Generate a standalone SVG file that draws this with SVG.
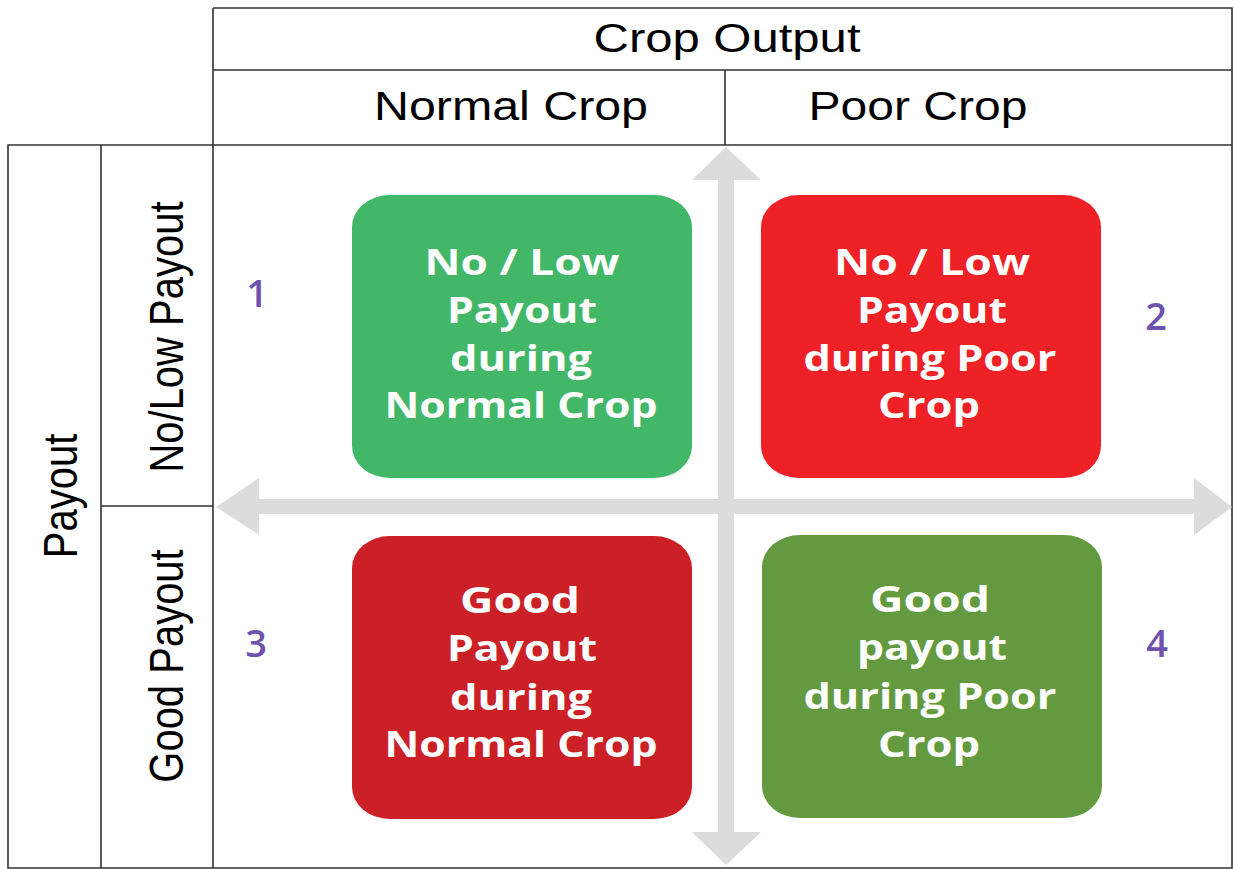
<svg xmlns="http://www.w3.org/2000/svg" width="1234" height="869" viewBox="0 0 1234 869">
<style>
.ln{stroke:#333;stroke-width:1.6;fill:none}
.hd{font-family:"Liberation Sans",Arial,sans-serif;font-size:40px;fill:#000;text-anchor:middle}
.num{font-family:"Open Sans","Liberation Sans",sans-serif;font-size:38px;font-weight:600;fill:#6e52ad;text-anchor:middle}
.bt{font-family:"Open Sans","Liberation Sans",sans-serif;font-size:35px;font-weight:700;fill:#fff;text-anchor:middle}
.arr{fill:#dcdcdc}
</style>
<rect width="1234" height="869" fill="#fff"/>
<g id="table">
<path class="ln" d="M213,8 H1232 V868 H8 V145 H1232 M213,70 H1232 M213,8 V868 M101,145 V868 M101,506 H213 M725,70 V145"/>
</g>
<g id="headers">
<text class="hd" x="727" y="52" font-size="38" textLength="267" lengthAdjust="spacingAndGlyphs">Crop Output</text>
<text class="hd" x="511" y="120" textLength="274" lengthAdjust="spacingAndGlyphs">Normal Crop</text>
<text class="hd" x="918" y="120" textLength="219" lengthAdjust="spacingAndGlyphs">Poor Crop</text>
<text class="hd" font-size="41" transform="translate(77,496) scale(1.2,1) rotate(-90)">Payout</text>
<text class="hd" font-size="41" transform="translate(183,337) scale(1.2,1) rotate(-90)">No/Low Payout</text>
<text class="hd" font-size="41" transform="translate(183,666) scale(1.2,1) rotate(-90)">Good Payout</text>
</g>
<g id="connectors">
<polygon class="arr" points="726,147 761,180 734,180 734,832 761,832 726,865 692,832 718,832 718,180 692,180"/>
<polygon class="arr" points="216,507 259,478 259,499 1194,499 1194,478 1232,507 1194,535 1194,514 259,514 259,535"/>
</g>
<g id="box1">
<rect x="352" y="195" width="340" height="283" rx="38" ry="32" fill="#42b768"/>
<text class="bt" x="522" y="275" textLength="195" lengthAdjust="spacingAndGlyphs">No / Low</text>
<text class="bt" x="522" y="323" textLength="150" lengthAdjust="spacingAndGlyphs">Payout</text>
<text class="bt" x="521" y="371" textLength="142" lengthAdjust="spacingAndGlyphs">during</text>
<text class="bt" x="521" y="418" textLength="273" lengthAdjust="spacingAndGlyphs">Normal Crop</text>
</g>
<g id="box2">
<rect x="761" y="195" width="340" height="283" rx="38" ry="32" fill="#ee2126"/>
<text class="bt" x="932" y="275" textLength="196" lengthAdjust="spacingAndGlyphs">No / Low</text>
<text class="bt" x="932" y="323" textLength="150" lengthAdjust="spacingAndGlyphs">Payout</text>
<text class="bt" x="930" y="371" textLength="253" lengthAdjust="spacingAndGlyphs">during Poor</text>
<text class="bt" x="929" y="418" textLength="102" lengthAdjust="spacingAndGlyphs">Crop</text>
</g>
<g id="box3">
<rect x="352" y="536" width="340" height="283" rx="38" ry="32" fill="#cc2027"/>
<text class="bt" x="520" y="613" textLength="120" lengthAdjust="spacingAndGlyphs">Good</text>
<text class="bt" x="522" y="661" textLength="150" lengthAdjust="spacingAndGlyphs">Payout</text>
<text class="bt" x="521" y="710" textLength="142" lengthAdjust="spacingAndGlyphs">during</text>
<text class="bt" x="521" y="757" textLength="273" lengthAdjust="spacingAndGlyphs">Normal Crop</text>
</g>
<g id="box4">
<rect x="762" y="535" width="340" height="283" rx="38" ry="32" fill="#649a3f"/>
<text class="bt" x="930" y="612" textLength="120" lengthAdjust="spacingAndGlyphs">Good</text>
<text class="bt" x="932" y="660" textLength="150" lengthAdjust="spacingAndGlyphs">payout</text>
<text class="bt" x="930" y="709" textLength="253" lengthAdjust="spacingAndGlyphs">during Poor</text>
<text class="bt" x="929" y="757" textLength="102" lengthAdjust="spacingAndGlyphs">Crop</text>
</g>
<g id="numbers">
<text class="num" x="257" y="307">1</text>
<text class="num" x="1156" y="330">2</text>
<text class="num" x="256" y="657">3</text>
<text class="num" x="1157" y="657">4</text>
</g>
</svg>
